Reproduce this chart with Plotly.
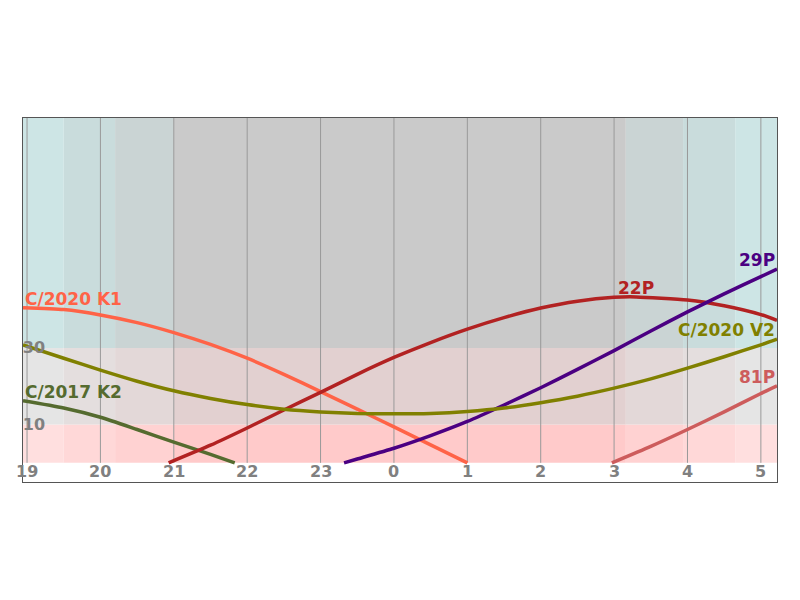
import plotly.graph_objects as go

# ---- data (hours after 19:00, altitude in degrees) ----
tick_hours = [0, 1, 2, 3, 4, 5, 6, 7, 8, 9, 10]
tick_labels = ["19", "20", "21", "22", "23", "0", "1", "2", "3", "4", "5"]
alt_ticks = [10, 30]

k1_h = [-0.055, 0.5, 1, 1.5, 2, 2.5, 3, 3.5, 4, 4.5, 5, 5.5, 6]
k1_alt = [40.5, 40.0, 38.6, 36.6, 34.0, 30.9, 27.3, 23.1, 18.6, 14.0, 9.4, 4.7, 0]

k2_h = [-0.055, 0.5, 1, 1.5, 2, 2.5, 2.83]
k2_alt = [16.2, 14.3, 11.9, 8.7, 5.4, 2.2, 0]

p22_h = [1.93, 2.5, 3, 3.5, 4, 4.5, 5, 5.5, 6, 6.5, 7, 7.5, 8, 8.3, 9, 9.5, 10, 10.22]
p22_alt = [0, 4.6, 9.1, 13.8, 18.4, 23.1, 27.5, 31.4, 34.9, 37.9, 40.4, 42.2, 43.2, 43.3,
           42.5, 41.0, 38.7, 37.2]

p29_h = [4.32, 4.5, 5, 5.5, 6, 6.5, 7, 7.5, 8, 8.5, 9, 9.5, 10, 10.22]
p29_alt = [0, 1.0, 3.8, 7.1, 10.8, 15.1, 19.6, 24.4, 29.3, 34.4, 39.4, 44.1, 48.6, 50.6]

v2_h = [-0.055, 0.5, 1, 1.5, 2, 2.5, 3, 3.5, 4, 4.5, 5, 5.5, 6, 6.5, 7, 7.5, 8,
        8.5, 9, 9.5, 10, 10.22]
v2_alt = [30.8, 27.3, 24.2, 21.3, 18.8, 16.8, 15.2, 14.0, 13.3, 12.9, 12.8, 12.9,
          13.4, 14.3, 15.7, 17.4, 19.5, 21.9, 24.7, 27.7, 30.8, 32.3]

p81_h = [7.97, 8.5, 9, 9.5, 10, 10.22]
p81_alt = [0, 4.3, 8.7, 13.3, 18.1, 20.1]

# twilight bands (hours) and altitude bands
band_edges = [-0.055, 0.5, 1.2, 2.0, 8.16, 8.94, 9.65, 10.22]
band_kind = [0, 1, 2, 3, 2, 1, 0]
alt_edges = [0, 10, 30, 90]
# colors[row][kind]; rows: 0-10, 10-30, 30-90
cell_colors = [
    ["#ffdfdf", "#ffd8d8", "#ffd2d2", "#ffcaca"],
    ["#e5e5e5", "#e4dede", "#e3d8d8", "#e2d0d0"],
    ["#cde5e5", "#c9dcdc", "#cad4d4", "#cacaca"],
]

comets = [
    ("C/2020 K1", k1_h, k1_alt, "#ff6347", "start"),
    ("C/2017 K2", k2_h, k2_alt, "#556b2f", "start"),
    ("22P", p22_h, p22_alt, "#b22222", "max"),
    ("29P", p29_h, p29_alt, "#4b0082", "end"),
    ("C/2020 V2", v2_h, v2_alt, "#808000", "end"),
    ("81P", p81_h, p81_alt, "#cd5c5c", "end"),
]

fig = go.Figure()

shapes = []
for r in range(3):
    for i in range(len(band_kind)):
        shapes.append(dict(type="rect", xref="x", yref="y",
                           x0=band_edges[i], x1=band_edges[i + 1],
                           y0=alt_edges[r], y1=alt_edges[r + 1],
                           fillcolor=cell_colors[r][band_kind[i]],
                           line_width=0, layer="below"))
for t in tick_hours:
    shapes.append(dict(type="line", xref="x", yref="y", x0=t, x1=t,
                       y0=0, y1=90, line=dict(color="#999999", width=1),
                       layer="below"))

tick_font = dict(family="DejaVu Sans", size=16, color="#808080", weight="bold")
annotations = []
for t, lab in zip(tick_hours, tick_labels):
    annotations.append(dict(x=t, y=-5, xref="x", yref="y", text=lab,
                            showarrow=False, xanchor="center", yanchor="bottom",
                            yshift=-1, font=tick_font))

for name, h, a, col, where in comets:
    fig.add_trace(go.Scatter(x=h, y=a, mode="lines", name=name,
                             line=dict(color=col, width=3.5, shape="spline", smoothing=0.6),
                             showlegend=False, hoverinfo="skip"))
    if where == "start":
        ax, ay, xa = h[0], a[0], "left"
    elif where == "end":
        ax, ay, xa = h[-1], a[-1], "right"
    else:
        k = a.index(max(a))
        ax, ay, xa = h[k], a[k], "center"
    annotations.append(dict(x=ax, y=ay, xref="x", yref="y", text=name,
                            showarrow=False, xanchor=xa, yanchor="bottom",
                            yshift=-3,
                            font=dict(family="DejaVu Sans", size=17, color=col,
                                      weight="bold")))

fig.update_layout(
    width=800, height=600,
    margin=dict(l=23, r=23, t=118, b=118),
    paper_bgcolor="white", plot_bgcolor="white",
    shapes=shapes, annotations=annotations,
    xaxis=dict(range=[-0.055, 10.22], tickvals=tick_hours, showticklabels=False,
               showgrid=False, zeroline=False,
               showline=True, mirror=True, linecolor="#555555", linewidth=1,
               ticks=""),
    yaxis=dict(range=[-5, 90], tickvals=alt_ticks,
               ticklabelposition="inside", showgrid=False, zeroline=False,
               showline=True, mirror=True, linecolor="#555555", linewidth=1,
               ticks="", tickfont=tick_font),
)

fig.write_html("out.html", config={"displayModeBar": False},
               post_script="document.body.style.margin='0px';")
